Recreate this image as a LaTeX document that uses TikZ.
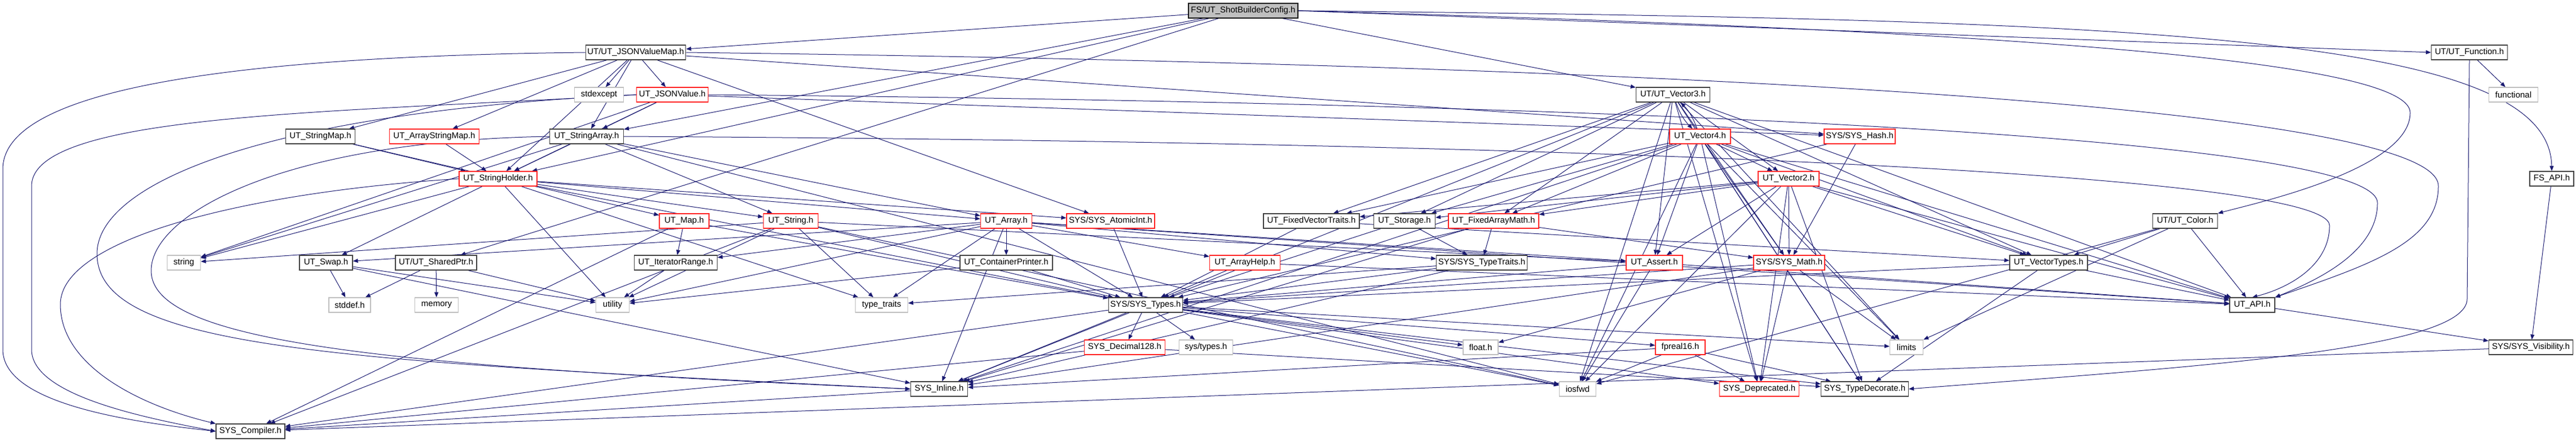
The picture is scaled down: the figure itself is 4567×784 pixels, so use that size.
\documentclass[tikz,border=0pt]{standalone}
\usepackage{fontspec}
\setmainfont{Liberation Sans}
\usetikzlibrary{arrows.meta}
\pgfdeclarelayer{background}
\pgfsetlayers{background,main}
\definecolor{edgeBlue}{HTML}{191970}
\definecolor{docGray}{HTML}{404040}
\definecolor{extGray}{HTML}{BFBFBF}
\definecolor{truncRed}{HTML}{FF2020}
\tikzset{
  box/.style={draw, fill=white, line width=1.2pt, minimum height=26pt,
    inner xsep=3pt, inner ysep=0pt, font=\fontsize{15}{17}\selectfont},
  docbox/.style={box, draw=docGray},
  truncbox/.style={box, draw=truncRed},
  extbox/.style={box, draw=extGray},
  rootbox/.style={box, draw=black, fill=extGray},
  dep/.style={draw=edgeBlue, line width=1pt, -{Triangle[length=9pt,width=7pt]}}
}

\begin{document}
\begin{tikzpicture}[x=1pt,y=-1pt]
  \useasboundingbox (0,0) rectangle (4567,784);

  % rows 0 to 2
  \node[rootbox, minimum width=194] (fs) at (2204,19) {FS/UT\_ShotBuilderConfig.h};
  \node[docbox, minimum width=176] (jvm) at (1127,93) {UT/UT\_JSONValueMap.h};
  \node[docbox, minimum width=135] (fn) at (4378,93) {UT/UT\_Function.h};
  \node[extbox, minimum width=87] (stdexc) at (1062,168) {stdexcept};
  \node[truncbox, minimum width=127] (jv) at (1192,168) {UT\_JSONValue.h};
  \node[docbox, minimum width=131] (v3) at (2966,168) {UT/UT\_Vector3.h};
  \node[extbox, minimum width=87] (functional) at (4456,168) {functional};

  % rows 3 and 4
  \node[docbox, minimum width=123] (smap) at (568,242) {UT\_StringMap.h};
  \node[truncbox, minimum width=159] (asmap) at (770,242) {UT\_ArrayStringMap.h};
  \node[docbox, minimum width=131] (sarr) at (1040,242) {UT\_StringArray.h};
  \node[truncbox, minimum width=108] (v4) at (3014,242) {UT\_Vector4.h};
  \node[truncbox, minimum width=126] (hash) at (3297,242) {SYS/SYS\_Hash.h};
  \node[truncbox, minimum width=138] (sh) at (883,317) {UT\_StringHolder.h};
  \node[truncbox, minimum width=108] (v2) at (3171,317) {UT\_Vector2.h};
  \node[docbox, minimum width=78] (fsapi) at (4524,317) {FS\_API.h};

  % row 5
  \node[truncbox, minimum width=88] (map) at (1213,392) {UT\_Map.h};
  \node[truncbox, minimum width=97] (str) at (1402,392) {UT\_String.h};
  \node[truncbox, minimum width=91] (arr) at (1784,392) {UT\_Array.h};
  \node[truncbox, minimum width=156] (atomic) at (1969,392) {SYS/SYS\_AtomicInt.h};
  \node[docbox, minimum width=170] (fvt) at (2325,392) {UT\_FixedVectorTraits.h};
  \node[docbox, minimum width=109] (storage) at (2490,392) {UT\_Storage.h};
  \node[truncbox, minimum width=160] (fam) at (2648,392) {UT\_FixedArrayMath.h};
  \node[docbox, minimum width=115] (color) at (3874,392) {UT/UT\_Color.h};

  % row 6
  \node[extbox, minimum width=59] (string) at (326,466) {string};
  \node[docbox, minimum width=94] (swap) at (578,466) {UT\_Swap.h};
  \node[docbox, minimum width=144] (sptr) at (773,466) {UT/UT\_SharedPtr.h};
  \node[docbox, minimum width=147] (iter) at (1198,466) {UT\_IteratorRange.h};
  \node[docbox, minimum width=164] (cprint) at (1784,466) {UT\_ContainerPrinter.h};
  \node[truncbox, minimum width=125] (ahelp) at (2207,466) {UT\_ArrayHelp.h};
  \node[docbox, minimum width=158] (ttraits) at (2627,466) {SYS/SYS\_TypeTraits.h};
  \node[truncbox, minimum width=100] (assert) at (2933,466) {UT\_Assert.h};
  \node[truncbox, minimum width=126] (math) at (3172,466) {SYS/SYS\_Math.h};
  \node[docbox, minimum width=138] (vtypes) at (3632,466) {UT\_VectorTypes.h};

  % rows 7 and 8
  \node[extbox, minimum width=74] (stddef) at (620,541) {stddef.h};
  \node[extbox, minimum width=77] (memory) at (774,541) {memory};
  \node[extbox, minimum width=59] (utility) at (1086,541) {utility};
  \node[extbox, minimum width=93] (typetraits) at (1563,541) {type\_traits};
  \node[docbox, minimum width=131] (types) at (2031,541) {SYS/SYS\_Types.h};
  \node[docbox, minimum width=80] (utapi) at (3993,541) {UT\_API.h};
  \node[truncbox, minimum width=143] (dec) at (1994,616) {SYS\_Decimal128.h};
  \node[extbox, minimum width=95] (systypes) at (2138,616) {sys/types.h};
  \node[extbox, minimum width=62] (floath) at (2625,616) {float.h};
  \node[truncbox, minimum width=88] (fp16) at (2979,616) {fpreal16.h};
  \node[extbox, minimum width=59] (limits) at (3380,616) {limits};
  \node[docbox, minimum width=149] (vis) at (4487,616) {SYS/SYS\_Visibility.h};

  % rows 9 and 10
  \node[docbox, minimum width=101] (inline) at (1665,690) {SYS\_Inline.h};
  \node[extbox, minimum width=65] (iosfwd) at (2797,690) {iosfwd};
  \node[truncbox, minimum width=141] (depr) at (3119,690) {SYS\_Deprecated.h};
  \node[docbox, minimum width=155] (tdec) at (3306,690) {SYS\_TypeDecorate.h};
  \node[docbox, minimum width=122] (comp) at (444,765) {SYS\_Compiler.h};

  \begin{pgfonlayer}{background}
    % straight includes
    \foreach \a/\b in {fs/jvm, fs/v3, fs/sptr, fs/sarr, fs/sh,
      jvm/stdexc, jvm/jv, jvm/smap, jvm/asmap, jvm/sarr, jvm/sh, jvm/atomic, jvm/hash,
      fn/functional,
      jv/sarr, jv/sh, jv/hash, jv/string,
      smap/sh, smap/map, asmap/sh,
      sarr/sh, sarr/arr, sarr/str, sarr/iosfwd, sarr/string,
      v3/v2, v3/fvt, v3/storage, v3/fam, v3/math, v3/assert, v3/vtypes, v3/utapi,
      v3/limits, v3/iosfwd, v3/inline, v3/depr, v3/tdec,
      v4/v2, v4/fvt, v4/storage, v4/fam, v4/math, v4/assert, v4/vtypes, v4/utapi,
      v4/limits, v4/iosfwd, v4/inline, v4/depr, v4/tdec,
      v2/fvt, v2/storage, v2/fam, v2/math, v2/assert, v2/vtypes, v2/utapi,
      v2/iosfwd, v2/depr, v2/tdec,
      hash/math, hash/types, fsapi/vis,
      color/utapi, color/vtypes, color/limits, color/iosfwd,
      sh/str, sh/arr, sh/atomic, sh/swap, sh/string, sh/utility, sh/typetraits, sh/iosfwd,
      map/iter, map/types, map/comp,
      str/utility, str/string, str/types, str/comp, str/iosfwd, str/assert, str/typetraits,
      arr/cprint, arr/typetraits, arr/inline, arr/types, arr/assert, arr/ahelp, arr/iter,
      arr/utility, arr/swap, arr/utapi, arr/ttraits,
      atomic/types, fvt/types, fvt/vtypes, storage/ttraits, storage/types,
      fam/ttraits, fam/math, fam/inline,
      swap/stddef, swap/utility, swap/inline,
      sptr/stddef, sptr/memory, sptr/utility,
      iter/utility, cprint/types, cprint/utility, ahelp/types, ahelp/utapi,
      ttraits/typetraits, ttraits/types, ttraits/inline,
      assert/utapi, assert/types, assert/iosfwd,
      math/types, math/limits, math/floath, math/inline, math/depr,
      vtypes/utapi, vtypes/tdec, vtypes/types, utapi/vis,
      types/inline, types/comp, types/dec, types/systypes, types/floath, types/fp16,
      types/limits, types/depr, types/tdec,
      dec/comp, dec/tdec,
      fp16/iosfwd, fp16/inline, fp16/depr, fp16/tdec,
      vis/comp, inline/comp}
      \draw[dep] (\a) -- (\b);

    % the pair between the vectors
    \draw[dep] (v3) to[bend right=12] (v4);
    \draw[dep] (v4) to[bend right=12] (v3);

    % long runs along the top
    \draw[dep] (fs.east) -- (fn.west);
    \draw[dep] (fs.east) .. controls (3800,35) and (4520,60) .. (fsapi.north);
    \draw[dep] (fs.east) .. controls (3600,55) and (4273,110) .. (4273,200)
      .. controls (4273,300) and (4000,360) .. (color.north east);
    \draw[dep] (jvm.east) .. controls (2600,110) and (4323,170) .. (4323,330)
      .. controls (4323,430) and (4200,470) .. (utapi.north east);
    \draw[dep] (jv.east) .. controls (2600,180) and (4215,230) .. (4215,360)
      .. controls (4215,450) and (4100,500) .. (utapi.north east);
    \draw[dep] (sarr.east) .. controls (2600,250) and (4130,300) .. (4130,400)
      .. controls (4130,470) and (4060,510) .. (utapi.north);
    \draw[dep] (fn.south) -- (4374,530) .. controls (4374,620) and (3900,650) .. (tdec.east);

    % long loops round the left side
    \draw[dep] (jvm.west) .. controls (400,100) and (5,160) .. (5,300)
      -- (5,620) .. controls (5,720) and (250,750) .. (comp.west);
    \draw[dep] (jv.west) .. controls (600,200) and (56,200) .. (56,330)
      -- (56,620) .. controls (56,700) and (250,740) .. (comp.west);
    \draw[dep] (sh.west) .. controls (450,340) and (107,420) .. (107,540)
      .. controls (107,650) and (250,720) .. (comp.north west);
    \draw[dep] (jv.west) .. controls (450,200) and (172,330) .. (172,450)
      .. controls (172,620) and (600,640) .. (inline.west);
    \draw[dep] (sarr.west) .. controls (500,250) and (268,380) .. (268,480)
      .. controls (268,610) and (700,650) .. (inline.west);
  \end{pgfonlayer}
\end{tikzpicture}
\end{document}
